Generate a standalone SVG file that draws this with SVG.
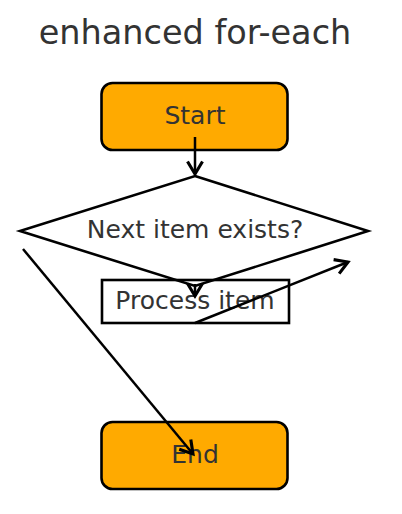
<svg xmlns="http://www.w3.org/2000/svg" width="402" height="514" viewBox="0 0 402 514">
<style>
text{font-family:"DejaVu Sans",sans-serif;fill:#333333;text-anchor:middle}
.t{font-size:25px}
.term{fill:#FFAA00;stroke:#000;stroke-width:2.6}
.box{fill:none;stroke:#000;stroke-width:2.6}
.c line{stroke:#000;stroke-width:2.5;fill:none}
</style>
<defs>
<marker id="ah" markerUnits="userSpaceOnUse" markerWidth="20" markerHeight="20" viewBox="-12 -8 16 16" refX="0" refY="0" orient="auto">
<path d="M-10,-6 L0,0 L-10,6" fill="none" stroke="#000" stroke-width="2.5"/>
</marker>
</defs>
<rect width="402" height="514" fill="#fff"/>
<text x="195" y="44" style="font-size:33.5px">enhanced for-each</text>
<g id="start"><rect class="term" x="101.5" y="83" width="186" height="67" rx="11"/><text class="t" x="195" y="124">Start</text></g>
<g id="process"><rect class="box" x="102" y="280" width="187" height="43"/><text class="t" x="195" y="309">Process item</text></g>
<g id="decision"><polygon class="box" points="195,176 368,231 195,286 20,231"/><text class="t" x="195" y="238">Next item exists?</text></g>
<g id="end"><rect class="term" x="101.5" y="422" width="186" height="67" rx="11"/><text class="t" x="195" y="463">End</text></g>
<g class="c" id="connectors">
<line x1="195" y1="137" x2="195" y2="174" marker-end="url(#ah)"/>
<line x1="195" y1="284" x2="195" y2="296" marker-end="url(#ah)"/>
<line x1="195" y1="323" x2="348" y2="262" marker-end="url(#ah)"/>
<line x1="23" y1="249" x2="193" y2="454" marker-end="url(#ah)"/>
</g>
</svg>
